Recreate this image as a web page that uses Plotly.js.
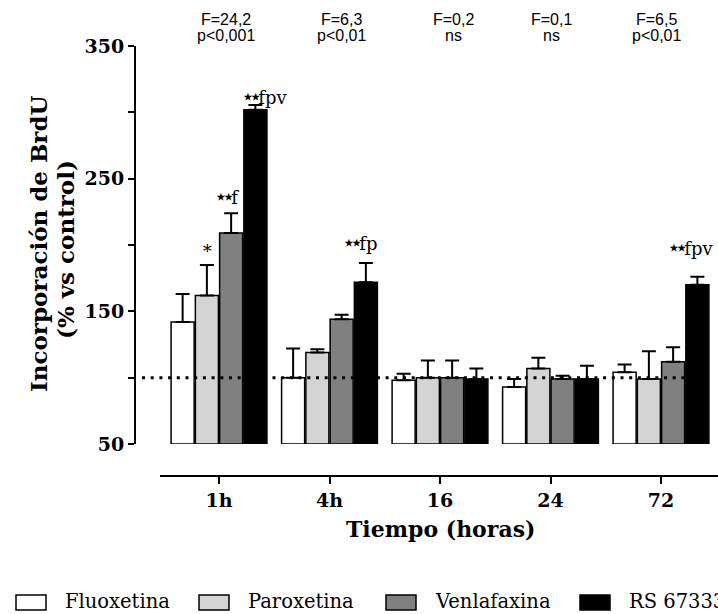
<!DOCTYPE html>
<html><head><meta charset="utf-8">
<script src="https://cdn.plot.ly/plotly-3.0.1.min.js"></script>
<style>html,body{margin:0;padding:0;overflow:hidden;background:#fff;width:718px;height:614px}</style>
</head><body><div id="chart"></div>
<script>
// ---- data ----
const categories = ['1h', '4h', '16', '24', '72'];
const seriesNames = ['Fluoxetina', 'Paroxetina', 'Venlafaxina', 'RS 67333'];
const seriesColors = ['#ffffff', '#d4d4d4', '#808080', '#000000'];

const fluoxetina    = [142, 100, 98, 93, 104];
const fluoxetinaErr = [21, 22, 5, 6, 6];
const paroxetina    = [162, 119, 100, 107, 99];
const paroxetinaErr = [23, 2.5, 13, 8, 21];
const venlafaxina    = [209, 144, 100, 99, 112];
const venlafaxinaErr = [15, 3.5, 13, 2.5, 11];
const rs67333    = [302, 172, 99, 99, 170];
const rs67333Err = [3.5, 14.5, 8, 10, 6];

const fStats = ['F=24,2', 'F=6,3', 'F=0,2', 'F=0,1', 'F=6,5'];
const pStats = ['p&lt;0,001', 'p&lt;0,01', 'ns', 'ns', 'p&lt;0,01'];

// significance labels: group index, series index, stars, letters
const sigGroup   = [0, 0, 0, 1, 4];
const sigSeries  = [1, 2, 3, 3, 3];
const sigStars   = ['∗', '⋆⋆', '⋆⋆', '⋆⋆', '⋆⋆'];
const sigLetters = ['', 'f', 'fpv', 'fp', 'fpv'];

const yTickVals = [50, 100, 150, 200, 250, 300, 350];
const yTickText = ['50', '', '150', '', '250', '', '350'];
const controlLevel = 100;
const axisFloor = 50;

// ---- layout geometry ----
const W = 760, H = 614;
const M = {l: 135, r: 20, t: 46, b: 138};
const plotW = W - M.l - M.r, plotH = H - M.t - M.b;
const px2x = p => (p - M.l) / plotW;
const px2y = p => (H - M.b - p) / plotH;
const xDomain = [px2x(160), 1];
const yDomain = [px2y(444), 1];
const xRange = [-0.534, 4.715];
const bargap = 0.122, bargroupgap = 0.05;
const pxPerCat = plotW * (xDomain[1] - xDomain[0]) / (xRange[1] - xRange[0]);
const slot = pxPerCat * (1 - bargap) / seriesNames.length;

const values = [fluoxetina, paroxetina, venlafaxina, rs67333];
const errs = [fluoxetinaErr, paroxetinaErr, venlafaxinaErr, rs67333Err];

const serif = 'DejaVu Serif, Liberation Serif, serif';
const sans = 'Liberation Sans Narrow, Liberation Sans, Arial, sans-serif';

const traces = values.map((v, i) => ({
  type: 'bar',
  name: seriesNames[i],
  x: categories,
  y: v.map(val => val - axisFloor),
  base: axisFloor,
  marker: {color: seriesColors[i], line: {color: '#000', width: 1.5}},
  error_y: {type: 'data', symmetric: false, array: errs[i], arrayminus: errs[i].map(() => 0),
            color: '#000', thickness: 2, width: 7},
  showlegend: false,
  hoverinfo: 'skip'
}));

const annotations = [];
const fShift = [7, 12, 13, 1, -4];
categories.forEach((c, i) => {
  annotations.push({xref: 'x', yref: 'paper', x: i, y: px2y(19), xshift: fShift[i], text: fStats[i],
    showarrow: false, yanchor: 'middle', font: {family: sans, size: 16, color: '#000'}});
  annotations.push({xref: 'x', yref: 'paper', x: i, y: px2y(36), xshift: fShift[i], text: pStats[i],
    showarrow: false, yanchor: 'middle', font: {family: sans, size: 16, color: '#000'}});
});

const sigDx = [0, -4.5, 9, -6, -7];
const sigDy = [17, 17, 9, 20, 29];
sigStars.forEach((st, k) => {
  const g = sigGroup[k], s = sigSeries[k];
  const starSpan = sigLetters[k]
    ? '<span style="font-size:22px;font-family:DejaVu Sans;letter-spacing:-6px">' + st + '</span>&#8202;'
    : st;
  annotations.push({xref: 'x', yref: 'y', x: g, y: values[s][g] + errs[s][g],
    xshift: (s - (seriesNames.length - 1) / 2) * slot + sigDx[k], yshift: sigDy[k],
    text: starSpan + sigLetters[k], showarrow: false, xanchor: 'center', yanchor: 'middle',
    font: {family: serif, size: 18, color: '#000'}});
});

// y-axis title (two lines)
annotations.push({xref: 'paper', yref: 'paper', x: px2x(39), y: px2y(244), textangle: -90,
  text: 'Incorporación de BrdU', showarrow: false, xanchor: 'center', yanchor: 'middle',
  font: {family: serif, size: 23, color: '#000', weight: 700}});
annotations.push({xref: 'paper', yref: 'paper', x: px2x(65), y: px2y(250), textangle: -90,
  text: '(% vs control)', showarrow: false, xanchor: 'center', yanchor: 'middle',
  font: {family: serif, size: 23, color: '#000', weight: 700}});
// x-axis title
annotations.push({xref: 'paper', yref: 'paper', x: px2x(440), y: px2y(529),
  text: 'Tiempo (horas)', showarrow: false, xanchor: 'center', yanchor: 'middle',
  font: {family: serif, size: 22, color: '#000', weight: 700}});

// legend (drawn from the series arrays)
const legX = [16, 199, 386, 580];
const shapes = [{type: 'line', xref: 'paper', yref: 'y', x0: px2x(142), x1: px2x(692), y0: controlLevel, y1: controlLevel,
  line: {color: '#000', width: 3, dash: '3px,5.7px'}, layer: 'above'}];
seriesNames.forEach((n, i) => {
  shapes.push({type: 'rect', xref: 'paper', yref: 'paper', x0: px2x(legX[i]), x1: px2x(legX[i] + 30),
    y0: px2y(610), y1: px2y(595), fillcolor: seriesColors[i], line: {color: '#000', width: 1.5}});
  annotations.push({xref: 'paper', yref: 'paper', x: px2x(legX[i] + 48), y: px2y(601), text: n,
    showarrow: false, xanchor: 'left', yanchor: 'middle', borderpad: 0,
    font: {family: serif, size: 19.5, color: '#000'}});
});

const layout = {
  width: W, height: H, margin: {l: M.l, r: M.r, t: M.t, b: M.b, pad: 0},
  paper_bgcolor: '#fff', plot_bgcolor: '#fff',
  barmode: 'group', bargap: bargap, bargroupgap: bargroupgap, showlegend: false,
  xaxis: {type: 'category', domain: xDomain, range: xRange, anchor: 'free', position: 0,
    showline: true, linecolor: '#000', linewidth: 2, ticks: 'outside', ticklen: 7, tickwidth: 2, tickcolor: '#000',
    showgrid: false, zeroline: false, tickfont: {family: serif, size: 19, color: '#000', weight: 700}},
  yaxis: {domain: yDomain, range: [50, 350], anchor: 'free', position: 0,
    showline: true, linecolor: '#000', linewidth: 2, ticks: 'outside', ticklen: 6, tickwidth: 2, tickcolor: '#000',
    tickvals: yTickVals, ticktext: yTickText, showgrid: false, zeroline: false,
    tickfont: {family: serif, size: 19, color: '#000', weight: 700}},
  annotations: annotations, shapes: shapes
};

Plotly.newPlot('chart', traces, layout, {staticPlot: true, responsive: false});
</script></body></html>
